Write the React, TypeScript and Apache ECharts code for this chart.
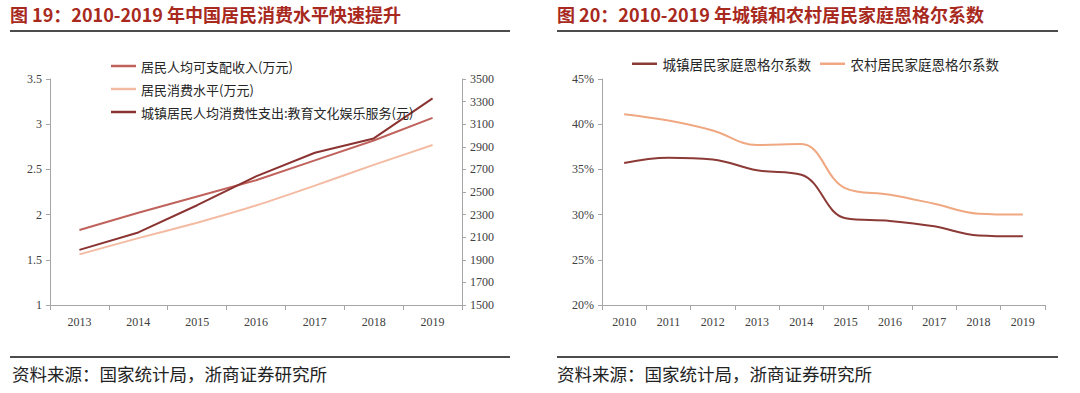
import React, { useEffect, useRef } from "react";
import * as echarts from "echarts";

const leftYears = ["2013", "2014", "2015", "2016", "2017", "2018", "2019"];
const incomeWan = [1.83, 2.02, 2.2, 2.38, 2.6, 2.82, 3.07];
const consumptionWan = [1.56, 1.74, 1.91, 2.1, 2.32, 2.55, 2.77];
const eduCultureYuan = [1988, 2142, 2383, 2638, 2847, 2974, 3328];

const rightYears = ["2010", "2011", "2012", "2013", "2014", "2015", "2016", "2017", "2018", "2019"];
const urbanEngel = [35.7, 36.3, 36.1, 34.9, 34.4, 29.6, 29.3, 28.7, 27.7, 27.6];
const ruralEngel = [41.1, 40.4, 39.3, 37.7, 37.8, 32.9, 32.2, 31.2, 30.1, 30.0];

const leftTitle = "图 19：2010-2019 年中国居民消费水平快速提升";
const rightTitle = "图 20：2010-2019 年城镇和农村居民家庭恩格尔系数";
const sourceText = "资料来源：国家统计局，浙商证券研究所";

const nameIncome = "居民人均可支配收入(万元)";
const nameConsumption = "居民消费水平(万元)";
const nameEdu = "城镇居民人均消费性支出:教育文化娱乐服务(元)";
const nameUrban = "城镇居民家庭恩格尔系数";
const nameRural = "农村居民家庭恩格尔系数";

const CJK = "'Noto Sans CJK SC', sans-serif";
const SERIF = "'Liberation Serif', 'DejaVu Serif', serif";
const TITLE_COLOR = "#a8291d";
const AXIS_COLOR = "#a6a6a6";
const LABEL_COLOR = "#404040";
const LINE_ICON = "path://M0,0 L40,0 L40,4 L0,4 Z";

export default function App() {
  const ref = useRef<HTMLDivElement>(null);
  useEffect(() => {
    document.body.style.margin = "0";
    if (!ref.current) return;
    const chart = echarts.init(ref.current, null, { renderer: "svg" });
    const axisLabel = { color: LABEL_COLOR, fontFamily: SERIF, fontSize: 12 };
    const axisLine = { show: true, lineStyle: { color: AXIS_COLOR, width: 1 } };
    const axisTick = { show: true, length: 4, lineStyle: { color: AXIS_COLOR } };

    const option: any = {
      animation: false,
      backgroundColor: "#ffffff",
      grid: [
        { left: 50, right: 618, top: 79, bottom: 88 },
        { left: 602, right: 35, top: 79, bottom: 88 },
      ],
      legend: [
        {
          orient: "vertical",
          left: 106,
          top: 53,
          icon: LINE_ICON,
          itemWidth: 25,
          itemHeight: 2.5,
          itemGap: 7,
          textStyle: { fontFamily: CJK, fontSize: 13, color: "#262626", lineHeight: 16 },
          data: [nameIncome, nameConsumption, nameEdu],
        },
        {
          orient: "horizontal",
          left: 627,
          top: 52,
          icon: LINE_ICON,
          itemWidth: 26,
          itemHeight: 2.5,
          itemGap: 9,
          textStyle: { fontFamily: CJK, fontSize: 13.5, color: "#262626" },
          data: [nameUrban, nameRural],
        },
      ],
      xAxis: [
        {
          type: "category",
          gridIndex: 0,
          data: leftYears,
          boundaryGap: true,
          axisLine,
          axisTick: { ...axisTick, length: 5 },
          axisLabel: { ...axisLabel, margin: 11 },
        },
        {
          type: "category",
          gridIndex: 1,
          data: rightYears,
          boundaryGap: true,
          axisLine,
          axisTick: { ...axisTick, length: 5 },
          axisLabel: { ...axisLabel, margin: 11 },
        },
      ],
      yAxis: [
        {
          type: "value",
          gridIndex: 0,
          min: 1,
          max: 3.5,
          interval: 0.5,
          position: "left",
          axisLine,
          axisTick,
          splitLine: { show: false },
          axisLabel: { ...axisLabel, margin: 8 },
        },
        {
          type: "value",
          gridIndex: 0,
          min: 1500,
          max: 3500,
          interval: 200,
          position: "right",
          axisLine,
          axisTick,
          splitLine: { show: false },
          axisLabel: { ...axisLabel, margin: 8, formatter: (v: number) => String(v) },
        },
        {
          type: "value",
          gridIndex: 1,
          min: 20,
          max: 45,
          interval: 5,
          position: "left",
          axisLine,
          axisTick,
          splitLine: { show: false },
          axisLabel: { ...axisLabel, margin: 8, formatter: "{value}%" },
        },
      ],
      series: [
        {
          name: nameIncome,
          type: "line",
          xAxisIndex: 0,
          yAxisIndex: 0,
          data: incomeWan,
          symbol: "none",
          lineStyle: { color: "#c0625c", width: 2 },
          itemStyle: { color: "#c0625c" },
        },
        {
          name: nameConsumption,
          type: "line",
          xAxisIndex: 0,
          yAxisIndex: 0,
          data: consumptionWan,
          symbol: "none",
          smooth: 0.2,
          lineStyle: { color: "#f3bba2", width: 2 },
          itemStyle: { color: "#f3bba2" },
        },
        {
          name: nameEdu,
          type: "line",
          xAxisIndex: 0,
          yAxisIndex: 1,
          data: eduCultureYuan,
          symbol: "none",
          lineStyle: { color: "#8a3331", width: 2 },
          itemStyle: { color: "#8a3331" },
        },
        {
          name: nameUrban,
          type: "line",
          xAxisIndex: 1,
          yAxisIndex: 2,
          data: urbanEngel,
          symbol: "none",
          smooth: 0.4,
          lineStyle: { color: "#8b3a36", width: 2 },
          itemStyle: { color: "#8b3a36" },
        },
        {
          name: nameRural,
          type: "line",
          xAxisIndex: 1,
          yAxisIndex: 2,
          data: ruralEngel,
          symbol: "none",
          smooth: 0.4,
          lineStyle: { color: "#efa882", width: 2 },
          itemStyle: { color: "#efa882" },
        },
      ],
      graphic: [
        {
          type: "text",
          left: 10,
          top: 5,
          style: { text: leftTitle, fill: TITLE_COLOR, font: `bold 18px ${CJK}` },
        },
        {
          type: "text",
          left: 557,
          top: 5,
          style: { text: rightTitle, fill: TITLE_COLOR, font: `bold 18px ${CJK}` },
        },
        { type: "line", shape: { x1: 10, y1: 31, x2: 510, y2: 31 }, style: { stroke: "#111", lineWidth: 1.5 } },
        { type: "line", shape: { x1: 557, y1: 31, x2: 1058, y2: 31 }, style: { stroke: "#111", lineWidth: 1.5 } },
        { type: "line", shape: { x1: 10, y1: 357, x2: 510, y2: 357 }, style: { stroke: "#111", lineWidth: 1.5 } },
        { type: "line", shape: { x1: 557, y1: 357, x2: 1058, y2: 357 }, style: { stroke: "#111", lineWidth: 1.5 } },
        {
          type: "text",
          left: 12,
          top: 365,
          style: { text: sourceText, fill: "#222", font: `17.5px ${CJK}` },
        },
        {
          type: "text",
          left: 557,
          top: 365,
          style: { text: sourceText, fill: "#222", font: `17.5px ${CJK}` },
        },
      ],
    };
    chart.setOption(option);
    return () => chart.dispose();
  }, []);
  return <div ref={ref} style={{ width: 1080, height: 393 }} />;
}
